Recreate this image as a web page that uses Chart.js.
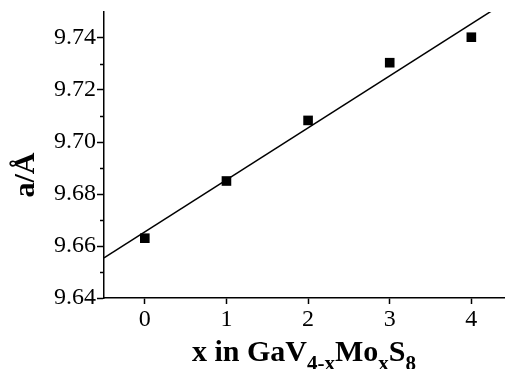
<!DOCTYPE html>
<html>
<head>
<meta charset="utf-8">
<script src="https://cdn.jsdelivr.net/npm/chart.js@4.4.0/dist/chart.umd.min.js"></script>
<style>
    html, body { margin: 0; padding: 0; background: #fff; }
    #wrap { width: 505px; height: 369px; }
</style>
</head>
<body>
<div id="wrap"><canvas id="latticeChart" width="505" height="369"></canvas></div>
<script>
// Data
const xValues = [0, 1, 2, 3, 4];
const aValues = [9.663, 9.685, 9.7083, 9.7305, 9.7403];
const xTicks = [0, 1, 2, 3, 4];
const yTicks = [9.64, 9.66, 9.68, 9.70, 9.72, 9.74];
const yMinorTicks = [9.65, 9.67, 9.69, 9.71, 9.73];
const xRange = [-0.5, 4.4];
const yRange = [9.64, 9.75];
const yTitle = 'a/Å';
const xTitleParts = [
    { text: 'x in GaV' }, { text: '4-x', sub: true },
    { text: 'Mo' }, { text: 'x', sub: true },
    { text: 'S' }, { text: '8', sub: true }
];

const serif = '"Liberation Serif", "Times New Roman", serif';

// Least squares fit of the measured points
function linearFit(xs, ys) {
    const n = xs.length;
    const mx = xs.reduce((a, b) => a + b, 0) / n;
    const my = ys.reduce((a, b) => a + b, 0) / n;
    let sxy = 0, sxx = 0;
    for (let i = 0; i < n; i++) {
        sxy += (xs[i] - mx) * (ys[i] - my);
        sxx += (xs[i] - mx) * (xs[i] - mx);
    }
    const slope = sxy / sxx;
    return { slope: slope, intercept: my - slope * mx };
}

const fit = linearFit(xValues, aValues);
const fitLine = xRange.map(x => ({ x: x, y: fit.intercept + fit.slope * x }));

// Axis titles with subscripts and the minor y ticks
const axisDecor = {
    id: 'axisDecor',
    afterDraw(chart) {
        const ctx = chart.ctx;
        const area = chart.chartArea;
        const y = chart.scales.y;
        ctx.save();
        ctx.strokeStyle = '#000';
        ctx.lineWidth = 1.5;
        yMinorTicks.forEach(v => {
            const py = Math.round(y.getPixelForValue(v)) + 0.5;
            ctx.beginPath();
            ctx.moveTo(area.left - 4, py);
            ctx.lineTo(area.left, py);
            ctx.stroke();
        });

        ctx.fillStyle = '#000';
        ctx.textBaseline = 'alphabetic';

        // y title, rotated
        ctx.save();
        ctx.translate(34, 175);
        ctx.rotate(-Math.PI / 2);
        ctx.font = 'bold 30px ' + serif;
        ctx.textAlign = 'center';
        ctx.fillText(yTitle, 0, 0);
        ctx.restore();

        // x title with subscripts
        const mainFont = 'bold 30px ' + serif;
        const subFont = 'bold 21px ' + serif;
        let total = 0;
        xTitleParts.forEach(p => {
            ctx.font = p.sub ? subFont : mainFont;
            p.w = ctx.measureText(p.text).width;
            total += p.w;
        });
        let cx = (area.left + area.right) / 2 - total / 2;
        const base = 361;
        ctx.textAlign = 'left';
        xTitleParts.forEach(p => {
            ctx.font = p.sub ? subFont : mainFont;
            ctx.fillText(p.text, cx, p.sub ? base + 9 : base);
            cx += p.w;
        });
        ctx.restore();
    }
};

new Chart(document.getElementById('latticeChart'), {
    type: 'scatter',
    data: {
        datasets: [
            {
                label: 'fit',
                data: fitLine,
                showLine: true,
                borderColor: '#000',
                borderWidth: 1.5,
                pointRadius: 0,
                fill: false
            },
            {
                label: 'a',
                data: xValues.map((x, i) => ({ x: x, y: aValues[i] })),
                pointStyle: 'rect',
                pointRadius: 6.8,
                backgroundColor: '#000',
                borderColor: '#000',
                borderWidth: 0
            }
        ]
    },
    options: {
        responsive: false,
        animation: false,
        layout: { autoPadding: false, padding: { top: 12, right: 1, left: 0, bottom: 0 } },
        plugins: {
            legend: { display: false },
            tooltip: { enabled: false }
        },
        scales: {
            x: {
                type: 'linear',
                min: xRange[0],
                max: xRange[1],
                afterBuildTicks: scale => { scale.ticks = xTicks.map(v => ({ value: v })); },
                afterFit: scale => { scale.height = 71; },
                grid: {
                    display: true,
                    drawOnChartArea: false,
                    drawTicks: true,
                    tickLength: 6,
                    tickWidth: 1.5,
                    tickColor: '#000'
                },
                border: { display: true, color: '#000', width: 1.5 },
                ticks: {
                    color: '#000',
                    padding: 1,
                    maxRotation: 0,
                    font: { family: serif, size: 24 },
                    callback: v => String(v)
                }
            },
            y: {
                type: 'linear',
                min: yRange[0],
                max: yRange[1],
                afterBuildTicks: scale => { scale.ticks = yTicks.map(v => ({ value: v })); },
                afterFit: scale => {
                    scale.width = 104;
                    scale.paddingTop = 0;
                    scale.paddingBottom = 0;
                },
                grid: {
                    display: true,
                    drawOnChartArea: false,
                    drawTicks: true,
                    tickLength: 7,
                    tickWidth: 1.5,
                    tickColor: '#000'
                },
                border: { display: true, color: '#000', width: 1.5 },
                ticks: {
                    color: '#000',
                    padding: 1,
                    font: { family: serif, size: 24 },
                    callback: v => Number(v).toFixed(2)
                }
            }
        }
    },
    plugins: [axisDecor]
});
</script>
</body>
</html>
